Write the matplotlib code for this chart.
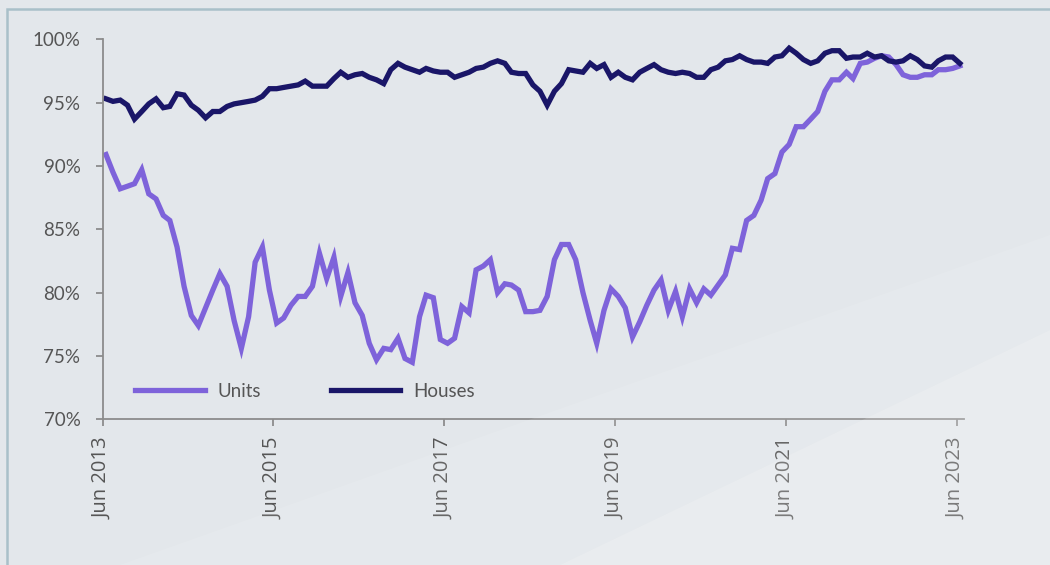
import datetime
import pandas as pd
from matplotlib import pyplot as plt
from matplotlib import dates as mdates
from matplotlib.patches import Rectangle, Polygon
from matplotlib.ticker import FuncFormatter

# monthly readings, Jun 2013 .. Jun 2023
months = pd.date_range('2013-06-01', periods=121, freq='MS') + pd.Timedelta(days=14)

units = [
    90.9, 89.5, 88.2, 88.4, 88.6, 89.7, 87.8, 87.4, 86.1, 85.7,
    83.6, 80.5, 78.2, 77.4, 78.8, 80.2, 81.5, 80.5, 77.8, 75.6,
    78.1, 82.4, 83.6, 80.2, 77.6, 78.0, 79.0, 79.7, 79.7, 80.5,
    83.1, 81.1, 82.8, 79.7, 81.6, 79.2, 78.2, 76.0, 74.7, 75.6,
    75.5, 76.4, 74.8, 74.5, 78.1, 79.8, 79.6, 76.3, 76.0, 76.4,
    78.9, 78.4, 81.8, 82.1, 82.6, 80.0, 80.7, 80.6, 80.2, 78.5,
    78.5, 78.6, 79.7, 82.6, 83.8, 83.8, 82.6, 80.0, 77.8, 76.0,
    78.6, 80.3, 79.7, 78.8, 76.5, 77.7, 79.0, 80.2, 81.0, 78.6,
    80.1, 78.1, 80.3, 79.2, 80.3, 79.8, 80.6, 81.4, 83.5, 83.4,
    85.7, 86.1, 87.3, 89.0, 89.4, 91.1, 91.7, 93.1, 93.1, 93.7,
    94.3, 95.9, 96.8, 96.8, 97.4, 96.9, 98.1, 98.2, 98.5, 98.7,
    98.6, 98.0, 97.2, 97.0, 97.0, 97.2, 97.2, 97.6, 97.6, 97.7,
    97.9,
]

houses = [
    95.3, 95.1, 95.2, 94.8, 93.7, 94.3, 94.9, 95.3, 94.6, 94.7,
    95.7, 95.6, 94.8, 94.4, 93.8, 94.3, 94.3, 94.7, 94.9, 95.0,
    95.1, 95.2, 95.5, 96.1, 96.1, 96.2, 96.3, 96.4, 96.7, 96.3,
    96.3, 96.3, 96.9, 97.4, 97.0, 97.2, 97.3, 97.0, 96.8, 96.5,
    97.6, 98.1, 97.8, 97.6, 97.4, 97.7, 97.5, 97.4, 97.4, 97.0,
    97.2, 97.4, 97.7, 97.8, 98.1, 98.3, 98.1, 97.4, 97.3, 97.3,
    96.4, 95.9, 94.8, 95.9, 96.5, 97.6, 97.5, 97.4, 98.1, 97.7,
    98.0, 97.0, 97.4, 97.0, 96.8, 97.4, 97.7, 98.0, 97.6, 97.4,
    97.3, 97.4, 97.3, 97.0, 97.0, 97.6, 97.8, 98.3, 98.4, 98.7,
    98.4, 98.2, 98.2, 98.1, 98.6, 98.7, 99.3, 98.9, 98.4, 98.1,
    98.3, 98.9, 99.1, 99.1, 98.5, 98.6, 98.6, 98.9, 98.6, 98.7,
    98.3, 98.2, 98.3, 98.7, 98.4, 97.9, 97.8, 98.3, 98.6, 98.6,
    98.1,
]

tick_years = [2013, 2015, 2017, 2019, 2021, 2023]
y_ticks = [70, 75, 80, 85, 90, 95, 100]

units_col = '#7E63DA'
houses_col = '#1A1668'
text_col = '#555555'
axis_col = '#8C8C8C'

W, H = 1050, 565
fig = plt.figure(figsize=(W / 100, H / 100), dpi=100)
fig.patch.set_facecolor('#E3E7EB')

# soft diagonal light bands in the backdrop
bands = [
    [(560, 0), (1050, 0), (1050, 235), (560, 0)],
    [(120, 0), (560, 0), (1050, 235), (1050, 330), (120, 0)],
]
shades = [0.22, 0.10]
for pts, a in zip(bands, shades):
    fig.patches.append(Polygon([(x / W, y / H) for x, y in pts], closed=True,
                               transform=fig.transFigure, facecolor='white',
                               edgecolor='none', alpha=a, zorder=0))

# panel frame (left and top edges visible)
fig.patches.append(Rectangle((7 / W, -0.05), 1.2, (H - 9) / H + 0.05,
                             transform=fig.transFigure, facecolor='none',
                             edgecolor='#A9C0C9', linewidth=1.8, zorder=1))

ax = fig.add_axes([102.7 / W, (H - 419.3) / H, (963.6 - 102.7) / W, (419.3 - 39.3) / H])
ax.set_facecolor('none')

ax.plot(months, units, color=units_col, linewidth=3.8, label='Units', solid_joinstyle='miter')
ax.plot(months, houses, color=houses_col, linewidth=3.8, label='Houses', solid_joinstyle='miter')

ax.set_xlim(datetime.date(2013, 6, 1), datetime.date(2023, 7, 1))
ax.set_ylim(70, 100)

ax.set_xticks([datetime.date(y, 6, 1) for y in tick_years])
ax.xaxis.set_major_formatter(mdates.DateFormatter('%b %Y'))
ax.set_yticks(y_ticks)
ax.yaxis.set_major_formatter(FuncFormatter(lambda v, p: f'{v:.0f}%'))

for s in ['top', 'right']:
    ax.spines[s].set_visible(False)
for s in ['left', 'bottom']:
    ax.spines[s].set_color(axis_col)
    ax.spines[s].set_linewidth(1.3)

ax.tick_params(axis='y', direction='out', length=5, width=1.3, color=axis_col,
               pad=11, labelsize=13.5, labelcolor=text_col)
ax.tick_params(axis='x', direction='out', length=5, width=1.3, color=axis_col,
               pad=8, labelsize=14.5, labelcolor=text_col, labelrotation=90)
for lbl in ax.get_yticklabels():
    lbl.set_family('Lato')
for lbl in ax.get_xticklabels():
    lbl.set_family('Open Sans')

leg = ax.legend(loc='center left', bbox_to_anchor=(0.038, 0.073), ncol=2, frameon=False,
                prop={'family': 'Lato', 'size': 13.5}, handlelength=3.7,
                handletextpad=0.7, columnspacing=3.7, borderpad=0, borderaxespad=0)
for t in leg.get_texts():
    t.set_color(text_col)

fig.savefig('out.png', dpi=100, facecolor=fig.get_facecolor())
